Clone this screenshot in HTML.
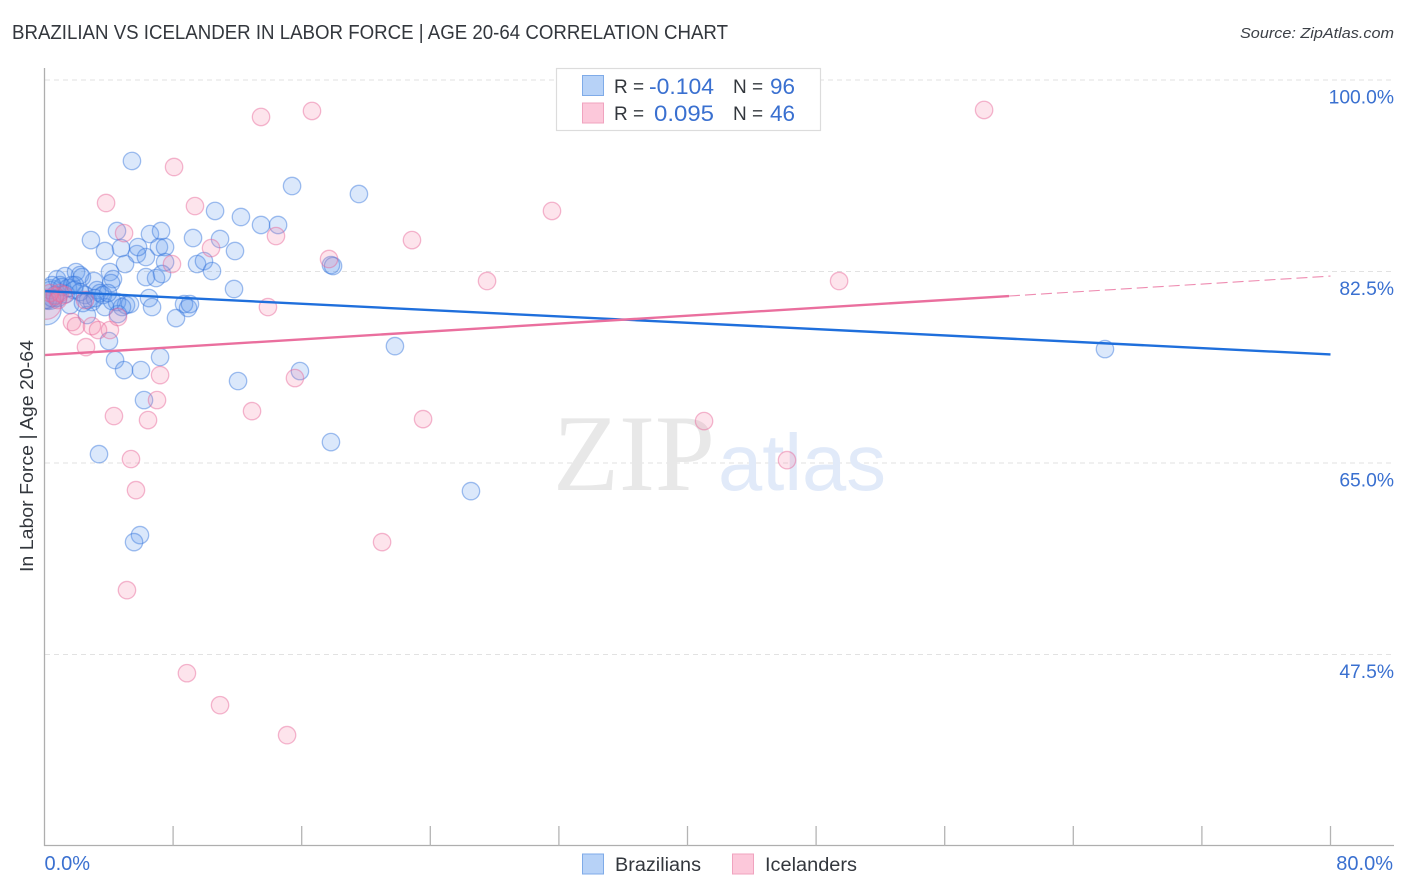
<!DOCTYPE html>
<html lang="en">
<head>
<meta charset="utf-8">
<title>Brazilian vs Icelander in Labor Force | Age 20-64 Correlation Chart</title>
<style>
html,body{margin:0;padding:0;background:#fff;width:1406px;height:892px;overflow:hidden}
svg{display:block;font-family:"Liberation Sans",sans-serif}
</style>
</head>
<body>
<svg id="chart" xmlns="http://www.w3.org/2000/svg" width="1406" height="892" viewBox="0 0 1406 892">
  <defs><clipPath id="plot-clip"><rect x="45" y="60" width="1350" height="786"/></clipPath></defs>
  <rect x="0" y="0" width="1406" height="892" fill="#fff"/>
  <text x="12" y="39" font-size="20" fill="#33373d" textLength="716" lengthAdjust="spacingAndGlyphs">BRAZILIAN VS ICELANDER IN LABOR FORCE | AGE 20-64 CORRELATION CHART</text>
  <text x="1394" y="38" font-size="15" font-style="italic" fill="#3c4047" text-anchor="end" textLength="154" lengthAdjust="spacingAndGlyphs">Source: ZipAtlas.com</text>
  <g id="grid"></g>
  <text x="553" y="490" style="font-family:'Liberation Serif',serif" font-size="109" fill="#e8e8e8" textLength="162" lengthAdjust="spacingAndGlyphs">ZIP</text>
  <text x="718" y="490" style="font-family:'Liberation Sans',Arial,sans-serif" font-size="80" fill="#e1eaf9" textLength="168" lengthAdjust="spacingAndGlyphs">atlas</text>
  <g id="points" clip-path="url(#plot-clip)"></g>
  <g id="trends"></g>
  <g id="axes"></g>
  <text transform="translate(33,456) rotate(-90)" font-size="18" fill="#33373d" text-anchor="middle" textLength="232" lengthAdjust="spacingAndGlyphs">In Labor Force | Age 20-64</text>

  <g>
    <rect x="556.5" y="68.5" width="264" height="62" fill="#fff" stroke="#dcdcdc" stroke-width="1.2"/>
    <rect x="582.5" y="75.5" width="21" height="20" fill="#b7d2f7" stroke="#7fabe8" stroke-width="1"/>
    <rect x="582.5" y="103" width="21" height="20" fill="#fcc8da" stroke="#f0a3bf" stroke-width="1"/>
    <text x="614" y="93" font-size="19" fill="#33373d">R =</text>
    <text x="714" y="94" font-size="22" fill="#3a70d0" text-anchor="end" textLength="65" lengthAdjust="spacingAndGlyphs">-0.104</text>
    <text x="733" y="93" font-size="19" fill="#33373d">N =</text>
    <text x="795" y="94" font-size="22" fill="#3a70d0" text-anchor="end" textLength="25" lengthAdjust="spacingAndGlyphs">96</text>
    <text x="614" y="120" font-size="19" fill="#33373d">R =</text>
    <text x="714" y="121" font-size="22" fill="#3a70d0" text-anchor="end" textLength="60" lengthAdjust="spacingAndGlyphs">0.095</text>
    <text x="733" y="120" font-size="19" fill="#33373d">N =</text>
    <text x="795" y="121" font-size="22" fill="#3a70d0" text-anchor="end" textLength="25" lengthAdjust="spacingAndGlyphs">46</text>
  </g>

  <g>
    <rect x="582.5" y="854" width="21" height="20" fill="#b7d2f7" stroke="#7fabe8" stroke-width="1"/>
    <text x="615" y="871" font-size="19" fill="#33373d" textLength="86" lengthAdjust="spacingAndGlyphs">Brazilians</text>
    <rect x="732.5" y="854" width="21" height="20" fill="#fcc8da" stroke="#f0a3bf" stroke-width="1"/>
    <text x="765" y="871" font-size="19" fill="#33373d" textLength="92" lengthAdjust="spacingAndGlyphs">Icelanders</text>
  </g>
</svg>
<script>
// ---------- data (x = % Brazilian/Icelander share, y = % in labor force) ----------
const brazilianX = [5.44,15.40,19.56,10.61,12.22,13.47,14.53,4.51,2.89,6.56,7.25,9.24,10.92,11.85,3.76,4.76,5.75,6.31,5.82,7.12,7.50,5.01,7.50,9.49,9.92,10.42,17.82,17.95,4.07,4.26,4.14,6.31,6.94,7.31,11.79,0.78,1.28,1.96,2.21,3.08,2.33,0.34,0.65,0.96,1.09,1.46,1.71,1.90,0.47,2.52,2.71,2.95,3.27,3.45,3.64,3.76,4.51,5.07,5.32,6.50,6.69,8.68,8.93,9.05,8.18,2.64,4.57,4.01,4.39,4.95,6.00,7.19,6.19,12.04,15.89,21.80,17.82,3.39,26.53,5.94,5.57,65.97,0.22,0.84,1.34,1.84,2.21,3.14,4.20,4.82,1.59,2.39,3.95,0.03,0.47];
const brazilianY = [92.60,90.31,89.58,88.03,87.48,86.75,86.75,86.20,85.37,85.92,86.20,85.56,85.47,84.37,84.37,84.64,84.09,83.82,84.73,84.73,84.73,83.18,83.36,83.18,83.45,82.54,83.09,83.00,82.45,81.81,81.44,81.99,81.90,82.27,80.90,81.81,82.08,82.45,82.17,81.63,81.99,80.80,80.35,81.26,81.08,80.99,81.26,81.26,81.26,80.35,79.89,79.71,80.80,80.53,80.35,79.25,79.71,79.43,79.52,80.07,79.25,79.52,79.16,79.52,78.24,78.52,78.61,76.14,74.41,73.49,73.49,74.68,70.75,72.49,73.40,75.68,66.91,65.81,62.43,58.41,57.77,75.41,79.89,80.07,80.44,80.80,80.62,80.07,79.80,79.25,79.43,79.62,80.53,79.89,80.07];
const icelanderX = [13.47,16.64,58.45,8.06,3.83,9.36,31.57,4.95,14.40,22.86,10.36,7.93,17.70,27.53,49.43,13.90,1.21,0.65,0.96,0.34,1.71,1.96,2.95,3.33,4.07,2.58,4.57,7.19,15.58,7.00,4.32,6.44,12.91,23.55,41.03,5.38,46.19,5.69,21.00,5.13,8.86,10.92,15.09,0.84,2.52];
const icelanderY = [96.62,97.17,97.26,92.05,88.76,88.48,88.03,86.01,85.74,85.37,84.64,83.18,83.64,81.63,81.63,79.25,80.35,80.26,80.53,80.53,77.88,77.51,77.51,77.15,77.15,75.59,78.34,73.03,72.76,70.75,69.29,68.92,69.74,69.01,68.83,65.36,65.26,62.52,57.77,53.38,45.79,42.87,40.13,79.89,79.89];
// pooled (large-sample) observations near the origin
const brazilianPooledX = [0.10,0.30];
const brazilianPooledY = [79.00,80.40];
const icelanderPooledX = [0.10];
const icelanderPooledY = [79.50];
// trend lines
const brazilianTrendX = [0,80];
const brazilianTrendY = [80.71,74.92];
const icelanderTrendSolidX = [0,60];
const icelanderTrendSolidY = [74.86,80.26];
const icelanderTrendDashX = [60,80];
const icelanderTrendDashY = [80.26,82.08];
// ticks
const xTickValues = [0,8,16,24,32,40,48,56,64,72,80];
const xEdgeValues = [0,80];
const xEdgeLabels = ['0.0%','80.0%'];
const yGridValues = [100,82.5,65,47.5];
const yTickLabels = ['100.0%','82.5%','65.0%','47.5%'];

// ---------- axis functions ----------
function xScale(v){ return 44.5 + v * (1330.5 - 44.5) / 80; }
function yScale(v){ return 80 + (100 - v) * (654.5 - 80) / 52.5; }

const NS = 'http://www.w3.org/2000/svg';
function make(tag, parent, attrs, text){
  const el = document.createElementNS(NS, tag);
  for (const k in attrs) el.setAttribute(k, attrs[k]);
  if (text !== undefined) el.textContent = text;
  parent.appendChild(el);
  return el;
}
const gridG = document.getElementById('grid');
const axesG = document.getElementById('axes');
const pointsG = document.getElementById('points');
const trendsG = document.getElementById('trends');

// ---------- grid and y labels ----------
yGridValues.forEach(function(v, i){
  const line = make('line', gridG, {x1:45, x2:1394, y1:yScale(v), y2:yScale(v), stroke:'#e2e2e2', 'stroke-width':1, 'stroke-dasharray':'5 4'});
  
  
  const label = make('text', axesG, {x:1394, y:yScale(v) + 23.5, 'font-size':19.3, fill:'#3a70d0', 'text-anchor':'end'}, yTickLabels[i]);
  
  
});

// ---------- axes ----------
const yAxis = make('line', axesG, {x1:44.5, x2:44.5, y1:68, y2:846, stroke:'#aeaeae', 'stroke-width':1.3});


const xAxis = make('line', axesG, {x1:44, x2:1394, y1:845.5, y2:845.5, stroke:'#aeaeae', 'stroke-width':1.3});


xTickValues.slice(1).forEach(function(v){
  const tick = make('line', axesG, {x1:xScale(v), x2:xScale(v), y1:826, y2:846, stroke:'#b4b4b4', 'stroke-width':1.3});
  
  
});
xEdgeValues.forEach(function(v, i){
  const anchor = i === 0 ? 'start' : 'end';
  const px = i === 0 ? xScale(v) : 1393;
  const label = make('text', axesG, {x:px, y:870, 'font-size':20, fill:'#3a70d0', 'text-anchor':anchor}, xEdgeLabels[i]);
  
  
});

// ---------- points ----------
function drawSeries(xs, ys, r, fill, stroke, name){
  xs.forEach(function(x, i){
    const c = make('circle', pointsG, {cx:xScale(x), cy:yScale(ys[i]), r:r, fill:fill, 'fill-opacity':0.22, stroke:stroke, 'stroke-opacity':0.45, 'stroke-width':1.3});
    
    
  });
}
drawSeries(brazilianPooledX, brazilianPooledY, 15, '#5b96eb', '#3273dc', 'brazilian-point-large');
drawSeries(brazilianX, brazilianY, 8.7, '#5b96eb', '#3273dc', 'brazilian-point');
drawSeries(icelanderPooledX, icelanderPooledY, 15, '#f582aa', '#e66496', 'icelander-point-large');
drawSeries(icelanderX, icelanderY, 8.7, '#f582aa', '#e66496', 'icelander-point');

// ---------- trends ----------
const t1 = make('line', trendsG, {x1:xScale(brazilianTrendX[0]), y1:yScale(brazilianTrendY[0]), x2:xScale(brazilianTrendX[1]), y2:yScale(brazilianTrendY[1]), stroke:'#1f6fdc', 'stroke-width':2.4});


const t2 = make('line', trendsG, {x1:xScale(icelanderTrendSolidX[0]), y1:yScale(icelanderTrendSolidY[0]), x2:xScale(icelanderTrendSolidX[1]), y2:yScale(icelanderTrendSolidY[1]), stroke:'#ea6f9e', 'stroke-width':2.4});


const t3 = make('line', trendsG, {x1:xScale(icelanderTrendDashX[0]), y1:yScale(icelanderTrendDashY[0]), x2:xScale(icelanderTrendDashX[1]), y2:yScale(icelanderTrendDashY[1]), stroke:'#ea6f9e', 'stroke-width':1.1, 'stroke-dasharray':'11 5', 'stroke-opacity':0.8});


</script>
</body>
</html>
